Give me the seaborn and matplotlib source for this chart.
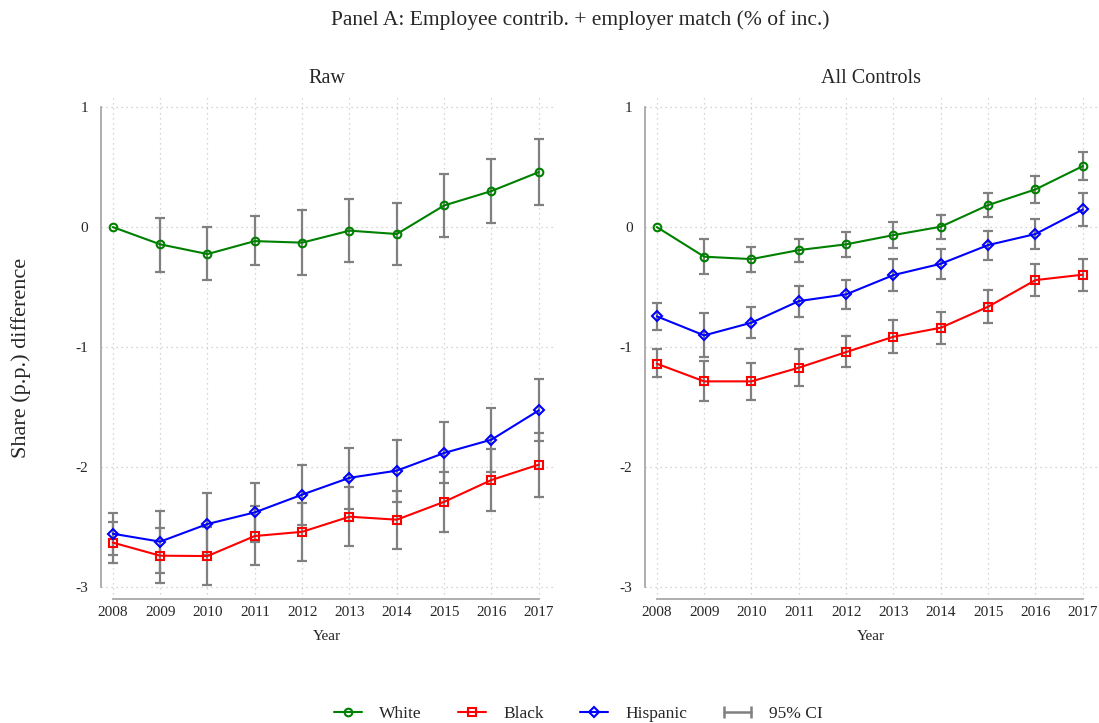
import numpy as np
import pandas as pd
import matplotlib
matplotlib.use('Agg')
import matplotlib.pyplot as plt
from matplotlib.lines import Line2D
from matplotlib.legend_handler import HandlerLine2D
import seaborn as sns

# Data
years = [2008, 2009, 2010, 2011, 2012, 2013, 2014, 2015, 2016, 2017]
groups = ['White', 'Black', 'Hispanic']

# Panel "Raw"
raw_white = [0.0, -0.144, -0.225, -0.117, -0.13, -0.03, -0.058, 0.18, 0.30, 0.458]
raw_white_lo = [0.0, -0.372, -0.445, -0.32, -0.40, -0.295, -0.314, -0.08, 0.033, 0.186]
raw_white_hi = [0.0, 0.078, 0.0, 0.09, 0.14, 0.236, 0.197, 0.44, 0.567, 0.73]
raw_black = [-2.63, -2.739, -2.742, -2.575, -2.54, -2.414, -2.439, -2.29, -2.108, -1.98]
raw_black_lo = [-2.80, -2.967, -2.98, -2.82, -2.78, -2.658, -2.68, -2.542, -2.367, -2.247]
raw_black_hi = [-2.46, -2.506, -2.50, -2.325, -2.30, -2.17, -2.197, -2.042, -1.85, -1.714]
raw_hisp = [-2.556, -2.622, -2.475, -2.378, -2.23, -2.09, -2.03, -1.883, -1.772, -1.528]
raw_hisp_lo = [-2.73, -2.881, -2.73, -2.625, -2.48, -2.347, -2.289, -2.136, -2.039, -1.786]
raw_hisp_hi = [-2.38, -2.364, -2.22, -2.13, -1.98, -1.839, -1.775, -1.628, -1.511, -1.267]

# Panel "All Controls"
ctl_white = [0.0, -0.247, -0.267, -0.192, -0.144, -0.067, 0.003, 0.183, 0.314, 0.508]
ctl_white_lo = [0.0, -0.394, -0.372, -0.289, -0.247, -0.175, -0.097, 0.081, 0.203, 0.392]
ctl_white_hi = [0.0, -0.10, -0.164, -0.097, -0.044, 0.039, 0.103, 0.283, 0.425, 0.628]
ctl_black = [-1.139, -1.286, -1.286, -1.172, -1.042, -0.914, -0.839, -0.664, -0.442, -0.397]
ctl_black_lo = [-1.253, -1.45, -1.439, -1.322, -1.167, -1.053, -0.972, -0.803, -0.575, -0.531]
ctl_black_hi = [-1.019, -1.114, -1.131, -1.017, -0.911, -0.775, -0.706, -0.522, -0.306, -0.264]
ctl_hisp = [-0.744, -0.903, -0.797, -0.617, -0.561, -0.40, -0.306, -0.15, -0.058, 0.147]
ctl_hisp_lo = [-0.856, -1.085, -0.928, -0.747, -0.681, -0.531, -0.433, -0.275, -0.186, 0.011]
ctl_hisp_hi = [-0.631, -0.719, -0.669, -0.492, -0.442, -0.267, -0.183, -0.031, 0.067, 0.283]

panels = {
    'Raw': {
        'White': (raw_white, raw_white_lo, raw_white_hi),
        'Black': (raw_black, raw_black_lo, raw_black_hi),
        'Hispanic': (raw_hisp, raw_hisp_lo, raw_hisp_hi),
    },
    'All Controls': {
        'White': (ctl_white, ctl_white_lo, ctl_white_hi),
        'Black': (ctl_black, ctl_black_lo, ctl_black_hi),
        'Hispanic': (ctl_hisp, ctl_hisp_lo, ctl_hisp_hi),
    },
}

colors = {'White': '#008000', 'Black': '#ff0000', 'Hispanic': '#0000ff'}
markers = {'White': 'o', 'Black': 's', 'Hispanic': 'D'}
ci_color = '#808080'
axis_gray = '#a8a8a8'

sns.set_style('white')
plt.rcParams['font.family'] = ['Liberation Serif', 'DejaVu Serif']
plt.rcParams['axes.unicode_minus'] = False

fig = plt.figure(figsize=(10.99, 7.23), dpi=100)
ax_pos = [[0.0919, 0.1715, 0.4113, 0.697], [0.5869, 0.1715, 0.4113, 0.697]]

for pos, (title, pdata) in zip(ax_pos, panels.items()):
    ax = fig.add_axes(pos)
    rows = []
    for g in groups:
        est, lo, hi = pdata[g]
        for y, e, l, h in zip(years, est, lo, hi):
            rows.append({'year': y, 'group': g, 'est': e, 'lo': l, 'hi': h})
    df = pd.DataFrame(rows)

    # confidence intervals (base year has none)
    for g in groups:
        sub = df[(df['group'] == g) & (df['lo'] != df['hi'])]
        eb = ax.errorbar(sub['year'], sub['est'],
                         yerr=[sub['est'] - sub['lo'], sub['hi'] - sub['est']],
                         fmt='none', ecolor=ci_color, elinewidth=1.6, capsize=3.4,
                         capthick=1.6, zorder=2)
        for cap in eb[1]:
            cap.set_color(ci_color)
            cap.set_markeredgecolor(ci_color)

    sns.lineplot(data=df, x='year', y='est', hue='group', style='group',
                 hue_order=groups, style_order=groups, palette=colors,
                 markers=markers, dashes=False, linewidth=1.5, markersize=5.5,
                 legend=False, ax=ax, zorder=3)
    for line in ax.lines:
        if line.get_marker() in ('o', 's', 'D'):
            c = line.get_color()
            line.set_markeredgecolor(c)
            line.set_markerfacecolor('none')
            line.set_markeredgewidth(1.5)

    ax.set_xlim(2007.75, 2017.3)
    ax.set_ylim(-3.1, 1.1)
    ax.set_xticks(years)
    ax.set_xticklabels([str(y) for y in years])
    ax.set_yticks([-3, -2, -1, 0, 1])
    ax.set_yticklabels(['-3', '-2', '-1', '0', '1'])
    ax.grid(True, color='#c8c8c8', linestyle=(0, (1, 3)), linewidth=0.9)
    for s in ['top', 'right']:
        ax.spines[s].set_visible(False)
    for s in ['left', 'bottom']:
        ax.spines[s].set_color(axis_gray)
        ax.spines[s].set_linewidth(1.3)
    ax.spines['left'].set_bounds(-3, 1)
    ax.spines['bottom'].set_bounds(2008, 2017)
    ax.tick_params(axis='y', length=6, width=1.2, color=axis_gray, pad=3,
                   labelsize=11)
    ax.tick_params(axis='x', length=0, pad=5, labelsize=11)
    ax.set_xlabel('Year', fontsize=11, labelpad=8)
    ax.set_ylabel('')
    ax.set_title(title, fontsize=14.5, pad=9)

fig.text(0.528, 0.972, 'Panel A: Employee contrib. + employer match (% of inc.)',
         ha='center', va='center', fontsize=15.5)
fig.text(0.019, 0.505, 'Share (p.p.) difference', rotation=90,
         ha='center', va='center', fontsize=16)

handles = [Line2D([], [], color=colors[g], marker=markers[g], markersize=5.5,
                  markerfacecolor='none', markeredgewidth=1.5, linewidth=1.5)
           for g in groups]
ci_handle = Line2D([], [], color=ci_color, marker='|', markersize=9,
                   markeredgewidth=1.8, linewidth=1.8)
handles.append(ci_handle)
fig.legend(handles, groups + ['95% CI'], loc='center', ncol=4,
           bbox_to_anchor=(0.526, 0.013), frameon=False, fontsize=12.5,
           handlelength=1.6, columnspacing=2.1, handletextpad=1.0,
           handler_map={ci_handle: HandlerLine2D(numpoints=2, marker_pad=0)})

fig.savefig('out.png', dpi=100)
